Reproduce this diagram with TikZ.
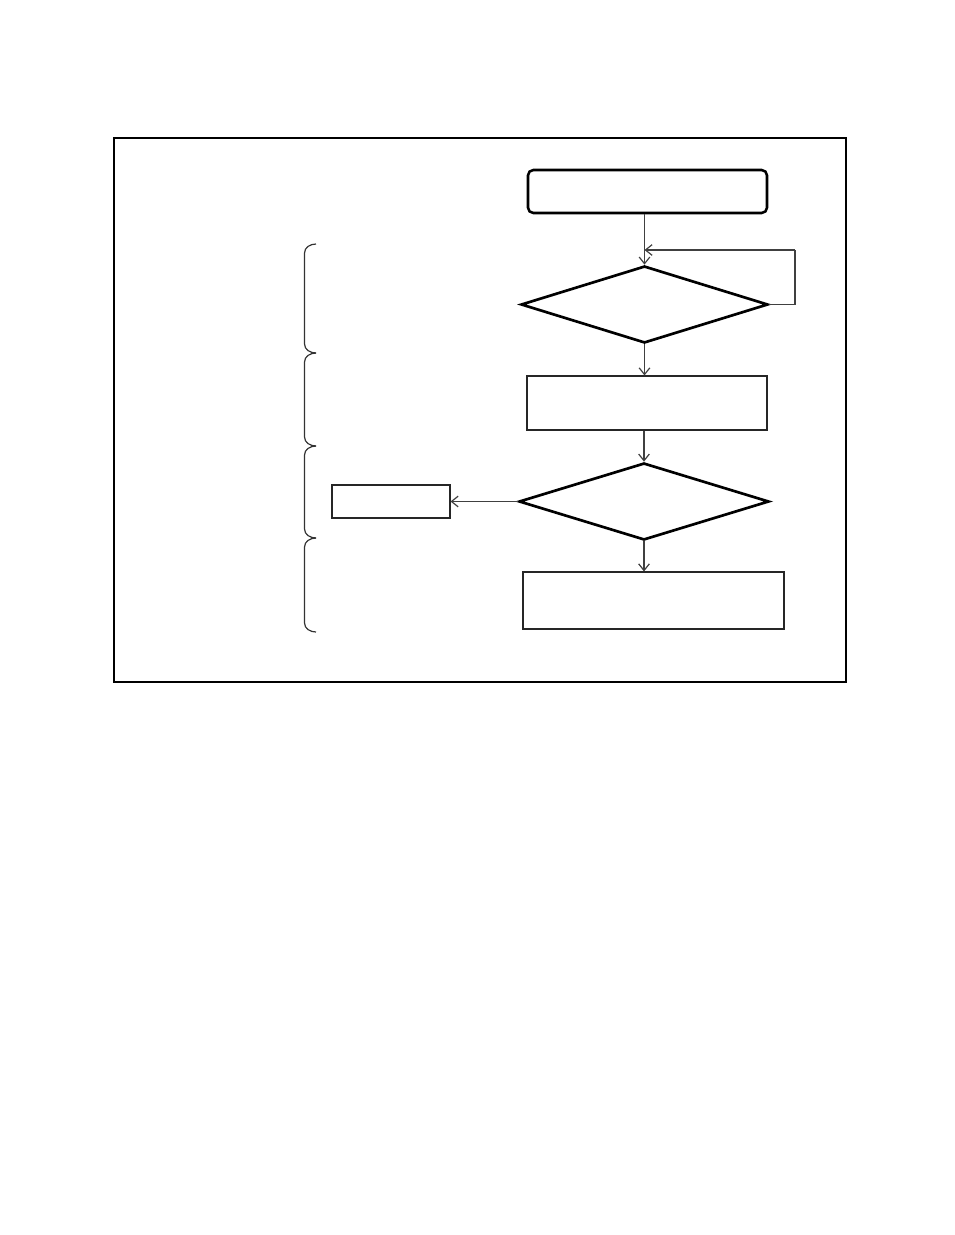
\documentclass[tikz,border=0pt]{standalone}
\usetikzlibrary{shapes.geometric,arrows.meta}
\begin{document}
\begin{tikzpicture}[x=0.75pt,y=-0.75pt,
    flowline/.style={draw=black!75,line width=0.9pt,-{Straight Barb[length=5pt,width=8pt]}},
    startbox/.style={draw,line width=1.9pt,rounded corners=4pt,inner sep=0pt},
    stepbox/.style={draw=black!85,line width=0.8pt,inner sep=0pt},
    choice/.style={diamond,draw,line width=2pt,inner sep=0pt}]
  \useasboundingbox (0,0) rectangle (954,1235);

  \draw[line width=1.5pt] (114,138) rectangle (846,682);

  \node[startbox,minimum width=179.25pt,minimum height=32.25pt] (start) at (647.5,191.5) {};
  \node[choice,minimum width=185.25pt,minimum height=57.75pt] (d1) at (644.5,304.5) {};
  \node[stepbox,minimum width=180pt,minimum height=40.5pt] (s1) at (647,403) {};
  \node[choice,minimum width=187.5pt,minimum height=57.75pt] (d2) at (644,501.5) {};
  \node[stepbox,minimum width=88.5pt,minimum height=24.75pt] (side) at (391,501.5) {};
  \node[stepbox,minimum width=195.75pt,minimum height=42.75pt] (s2) at (653.5,600.5) {};
  \coordinate (back) at (795,250);

  \draw[flowline] (d1.north |- start.south) -- (d1.north);
  \draw[flowline,-] (d1.east) -| (back);
  \draw[flowline] (back) -- (back -| d1.north);
  \draw[flowline] (d1.south) -- (d1.south |- s1.north);
  \draw[flowline] (d2.north |- s1.south) -- (d2.north);
  \draw[flowline] (d2.west) -- (side.east);
  \draw[flowline] (d2.south) -- (d2.south |- s2.north);

  % braces on the left
  \foreach \a/\b in {244/353,353/446,446/538,538/632}
    \draw[black!80,line width=0.9pt] (316,\a) to[out=180,in=90] (304.5,\a+9)
      -- (304.5,\b-9) to[out=-90,in=180] (316,\b);
\end{tikzpicture}
\end{document}
